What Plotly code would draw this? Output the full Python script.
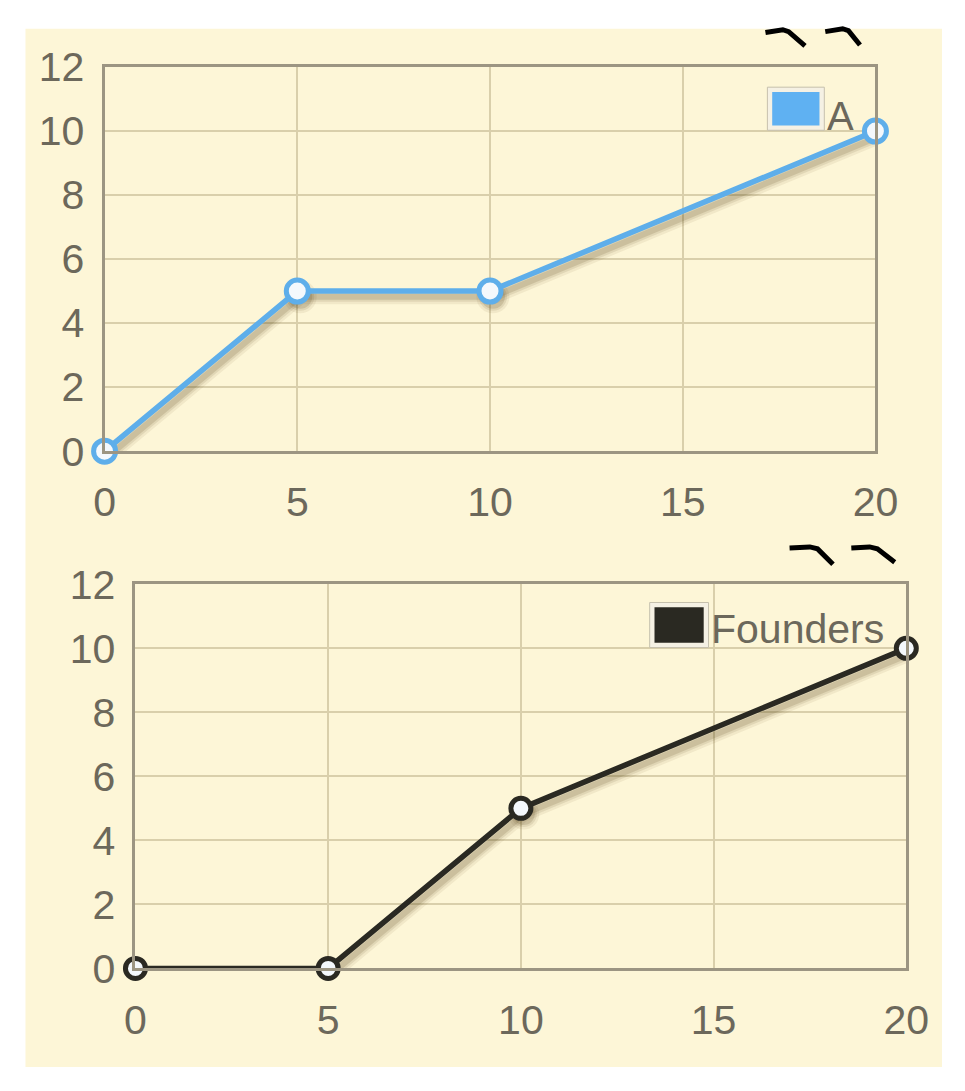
import plotly.graph_objects as go

# ---- data ----
x_vals = [0, 5, 10, 20]
series_a = [0, 5, 5, 10]
series_founders = [0, 0, 5, 10]
names = ["A", "Founders"]
colors = ["#5eaeea", "#2a2922"]
x_ticks = [0, 5, 10, 15, 20]
y_ticks = [0, 2, 4, 6, 8, 10, 12]

W, H = 965, 1091
BG = "#fdf6d7"
GRID = "#d9cfab"
FRAME = "#9c9582"
TICK_FONT = dict(family="Liberation Sans", size=41, color="#6c685b")


def px(x):
    return x / W


def py(y):
    return 1 - y / H


# plot areas in pixels: (left, top, right, bottom)
areas = [(97, 46, 896, 447), (129, 586, 928, 987)]
marker_sizes = [22, 20]

fig = go.Figure()

# shadow offset in pixels (right, down)
SH_DX, SH_DY = 3, 6

layout_axes = {}
for i, (l, t, r, b) in enumerate(areas):
    base = 2 * i + 1          # shadow axes (base)
    over = 2 * i + 2          # visible axes (overlay)
    xd = [px(l), px(r)]
    yd = [py(b), py(t)]
    ux = (r - l) / 20.0
    uy = (b - t) / 12.0
    bx = "xaxis" if base == 1 else f"xaxis{base}"
    by = "yaxis" if base == 1 else f"yaxis{base}"
    layout_axes[bx] = dict(domain=xd, range=[-SH_DX / ux, 20 - SH_DX / ux],
                           visible=False, anchor="y" if base == 1 else f"y{base}")
    layout_axes[by] = dict(domain=yd, range=[SH_DY / uy, 12 + SH_DY / uy],
                           visible=False, anchor="x" if base == 1 else f"x{base}")
    layout_axes[f"xaxis{over}"] = dict(
        overlaying="x" if base == 1 else f"x{base}", anchor=f"y{over}",
        range=[0, 20], tickvals=x_ticks, showgrid=True, gridcolor=GRID, gridwidth=2,
        showline=True, linecolor=FRAME, linewidth=3, mirror=True, zeroline=False,
        ticks="", tickfont=TICK_FONT, ticklabelstandoff=13)
    layout_axes[f"yaxis{over}"] = dict(
        overlaying="y" if base == 1 else f"y{base}", anchor=f"x{over}",
        range=[0, 12], tickvals=y_ticks, showgrid=True, gridcolor=GRID, gridwidth=2,
        showline=True, linecolor=FRAME, linewidth=3, mirror=True, zeroline=False,
        ticks="", tickfont=TICK_FONT, ticklabelstandoff=9)

for i, (vals, col) in enumerate(zip([series_a, series_founders], colors)):
    base = 2 * i + 1
    over = 2 * i + 2
    bxr = "x" if base == 1 else f"x{base}"
    byr = "y" if base == 1 else f"y{base}"
    # soft drop shadow under the line
    for w, a in [(15, 0.07), (10, 0.10), (6, 0.14)]:
        fig.add_trace(go.Scatter(
            x=x_vals, y=vals, xaxis=bxr, yaxis=byr, mode="lines+markers",
            line=dict(color=f"rgba(80,60,15,{a})", width=w),
            marker=dict(size=marker_sizes[i] + w - 4, color=f"rgba(80,60,15,{a})"),
            hoverinfo="skip", showlegend=False, cliponaxis=False))
    fig.add_trace(go.Scatter(
        x=x_vals, y=vals, xaxis=f"x{over}", yaxis=f"y{over}", name=names[i],
        mode="lines+markers",
        line=dict(color=col, width=5.5),
        marker=dict(size=marker_sizes[i], color="#f4f8fc", line=dict(color=col, width=5)),
        showlegend=False, cliponaxis=False))

shapes = [
    # cream panel with a thin white border on top, left and bottom
    dict(type="rect", xref="paper", yref="paper", layer="below",
         x0=px(15), x1=1, y0=py(1090), y1=py(6), fillcolor=BG, line_width=0),
]

# legend swatches
legend_boxes = [((784, 67, 843, 112), "#5fb1f2"), ((662, 605, 723, 652), colors[1])]
for (x0, y0, x1, y1), col in legend_boxes:
    shapes.append(dict(type="rect", xref="paper", yref="paper",
                       x0=px(x0), x1=px(x1), y0=py(y1), y1=py(y0),
                       fillcolor="#f5f1e4", line=dict(color="#c6c0ad", width=1)))
    shapes.append(dict(type="rect", xref="paper", yref="paper",
                       x0=px(x0 + 5), x1=px(x1 - 5), y0=py(y1 - 5), y1=py(y0 + 5),
                       fillcolor=col, line_width=0))

# small black strokes above each chart's top-right corner
strokes = [
    [(782, 10), (800, 7), (806, 9), (823, 24)],
    [(844, 9), (862, 6), (868, 8), (880, 23)],
    [(807, 548), (828, 547), (836, 549), (852, 565)],
    [(871, 548), (890, 547), (898, 549), (916, 563)],
]
for pts in strokes:
    path = "M " + " L ".join(f"{px(x):.5f},{py(y):.5f}" for x, y in pts)
    shapes.append(dict(type="path", xref="paper", yref="paper", path=path,
                       line=dict(color="#000000", width=5)))

annotations = [
    dict(text=names[0], xref="paper", yref="paper", x=px(844), y=py(97),
         xanchor="left", yanchor="middle", showarrow=False,
         font=dict(family="Liberation Sans", size=40, color="#6c685b")),
    dict(text=names[1], xref="paper", yref="paper", x=px(723), y=py(633),
         xanchor="left", yanchor="middle", showarrow=False,
         font=dict(family="Liberation Sans", size=41, color="#6c685b")),
]

fig.update_layout(
    width=W, height=H,
    margin=dict(l=0, r=0, t=0, b=0),
    paper_bgcolor="#ffffff", plot_bgcolor=BG,
    showlegend=False,
    shapes=shapes, annotations=annotations,
    **layout_axes,
)

# page without body margin or scrollbars so the figure fills the window
fig.write_html(
    "out.html",
    post_script="document.body.style.margin='0';"
                "document.documentElement.style.overflow='hidden';",
)
